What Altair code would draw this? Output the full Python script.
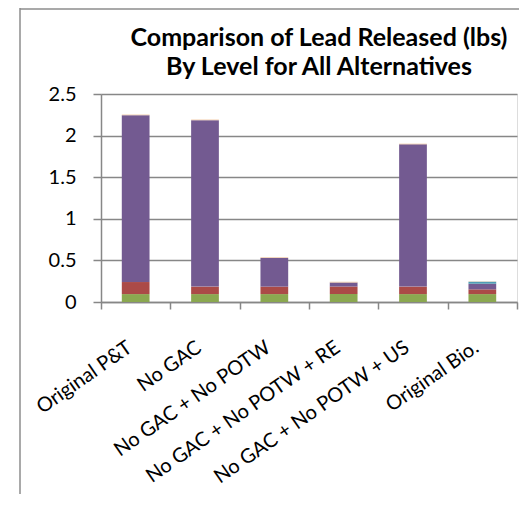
import altair as alt
import pandas as pd

categories = ["Original P&T", "No GAC", "No GAC + No POTW",
              "No GAC + No POTW + RE", "No GAC + No POTW + US", "Original Bio."]
levels = ["Level 1", "Level 2", "Level 3", "Level 4", "Level 5"]
level1 = [0.095, 0.095, 0.095, 0.095, 0.095, 0.095]
level2 = [0.145, 0.090, 0.090, 0.090, 0.090, 0.057]
level3 = [2.005, 2.000, 0.345, 0.050, 1.710, 0.068]
level4 = [0.000, 0.000, 0.000, 0.000, 0.000, 0.024]
level5 = [0.008, 0.008, 0.008, 0.008, 0.008, 0.004]
colors = ["#8BA850", "#AB4A47", "#735A91", "#4F9DB5", "#F2C9A2"]
y_ticks = [0, 0.5, 1, 1.5, 2, 2.5]

series = [level1, level2, level3, level4, level5]
rows = []
for li, (lvl, vals) in enumerate(zip(levels, series)):
    for ci, (cat, v) in enumerate(zip(categories, vals)):
        rows.append({"Alternative": cat, "Level": lvl, "order": li, "Lead": v})
df = pd.DataFrame(rows)

W, H = 416, 208
PAD_L, PAD_T, PAD_R, PAD_B = 93, 86, 2, 192

bars = alt.Chart(df).mark_bar(width=alt.RelativeBandSize(0.4)).encode(
    x=alt.X("Alternative:N", sort=categories,
            scale=alt.Scale(paddingInner=0, paddingOuter=0),
            axis=alt.Axis(title=None, labelAngle=-35, labelAlign="right",
                          labelBaseline="top", labelPadding=28, labelOffset=-12,
                          labelLimit=0,
                          tickBand="extent", tickSize=7, grid=False,
                          labelFont="Lato", labelFontSize=20, labelColor="#000000",
                          domainColor="#878787", tickColor="#878787",
                          domainWidth=1.5, tickWidth=1.5)),
    y=alt.Y("Lead:Q", stack="zero",
            scale=alt.Scale(domain=[0, 2.5], nice=False),
            axis=alt.Axis(title=None, values=y_ticks, labelFlush=False,
                          format="~g",
                          tickSize=8, labelPadding=17, grid=True,
                          gridColor="#878787", gridWidth=1.5,
                          labelFont="Lato", labelFontSize=20, labelColor="#000000",
                          domainColor="#878787", tickColor="#878787",
                          domainWidth=1.5, tickWidth=1.5)),
    color=alt.Color("Level:N", sort=levels,
                    scale=alt.Scale(domain=levels, range=colors), legend=None),
    order=alt.Order("order:Q", sort="ascending"),
)

frame_df = pd.DataFrame({"f": [0]})
frame_left = alt.Chart(frame_df).mark_rule(color="#8c8c8c", strokeWidth=1.5).encode(
    x=alt.value(-81), y=alt.value(-PAD_T), y2=alt.value(H + PAD_B))
frame_top = alt.Chart(frame_df).mark_rule(color="#8c8c8c", strokeWidth=1.5).encode(
    y=alt.value(-PAD_T + 1), x=alt.value(-81), x2=alt.value(W + PAD_R))

chart = alt.layer(frame_left, frame_top, bars).properties(
    width=W, height=H,
    padding={"left": PAD_L, "top": PAD_T, "right": PAD_R, "bottom": PAD_B},
    autosize=alt.AutoSizeParams(type="none"),
    title=alt.TitleParams(["Comparison of Lead Released (lbs)",
                           "By Level for All Alternatives"],
                          font="Lato", fontSize=25, fontWeight="bold",
                          color="#000000", lineHeight=29, anchor="middle",
                          dx=10, dy=77, offset=4),
).configure_view(strokeOpacity=0).configure(background="white")

chart.save("out.html", embed_options={"renderer": "svg", "actions": False})
